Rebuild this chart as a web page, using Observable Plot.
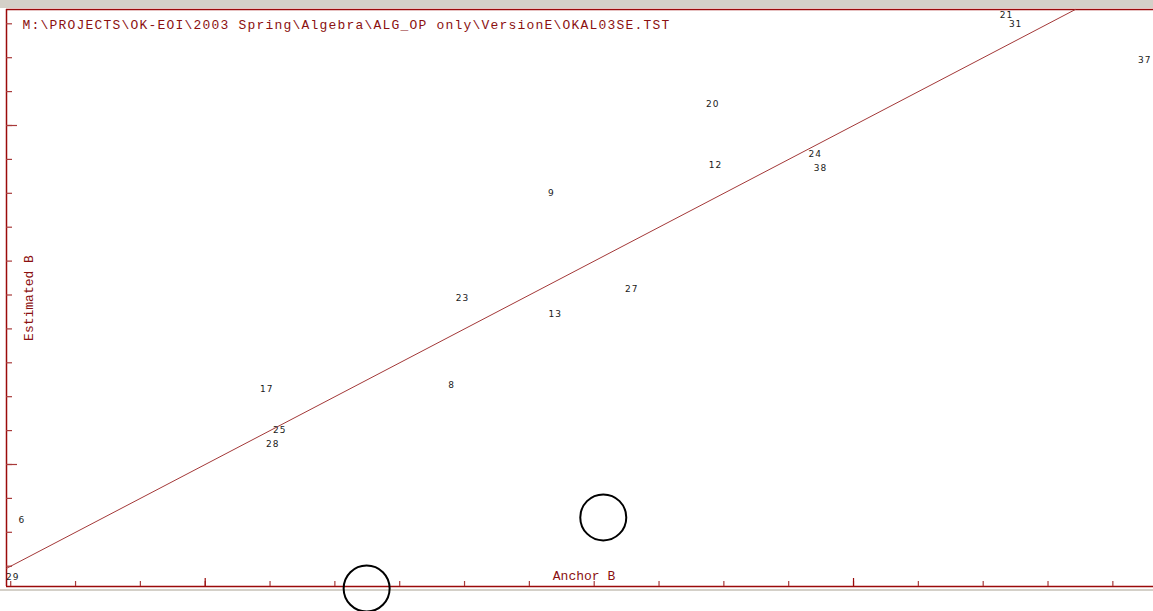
<!DOCTYPE html>
<html>
<head>
<meta charset="utf-8">
<script src="https://cdn.jsdelivr.net/npm/d3@7"></script>
<script src="https://cdn.jsdelivr.net/npm/@observablehq/plot@0.6"></script>
<style>
  html, body { margin: 0; padding: 0; background: #fff; }
  #chart svg { display: block; }
</style>
</head>
<body>
<div id="chart"></div>
<script>
// Item calibration: anchor difficulty vs. estimated difficulty (logits)
const fileTitle = "M:\\PROJECTS\\OK-EOI\\2003 Spring\\Algebra\\ALG_OP only\\VersionE\\OKAL03SE.TST";
const xTitle = "Anchor B";
const yTitle = "Estimated B";

const items      = ["21", "31", "37", "20", "24", "12", "38", "9", "27", "23", "13", "17", "8", "25", "28", "6", "29"];
const anchorB    = [0.236, 0.250, 0.449, -0.217, -0.059, -0.213, -0.051, -0.466, -0.342, -0.603, -0.460, -0.905, -0.620, -0.885, -0.896, -1.283, -1.297];
const estimatedB = [0.327, 0.298, 0.192, 0.062, -0.083, -0.118, -0.127, -0.198, -0.484, -0.510, -0.555, -0.779, -0.767, -0.900, -0.941, -1.165, -1.333];

// Two highlighted locations (hollow circles)
const markerX = [-0.386, -0.751];
const markerY = [-1.156, -1.366];

// Plot window in logits
const xDomain = [-1.3065, 0.4627];
const yDomain = [-1.3599, 0.3422];

// Minor ticks every 0.1, major ticks on whole logits
const xMinor = d3.range(-13, 5).map(i => i / 10);
const yMinor = d3.range(-13, 4).map(i => i / 10);
const xMajor = [-1, 0];
const yMajor = [-1, 0];

// Identity line y = x across the window
const identity = [xDomain[0], yDomain[1]];

const frameRed = "#9a0a0a";
const tickRed = "#a83a3a";
const textRed = "#8b1010";
const windowGray = "#d4d0c8";

const points = items.map((id, i) => ({id, x: anchorB[i], y: estimatedB[i]}));
const markers = markerX.map((x, i) => ({x, y: markerY[i]}));

const chart = Plot.plot({
  width: 1153,
  height: 611,
  marginLeft: 6,
  marginRight: 0,
  marginTop: 9,
  marginBottom: 25,
  x: {domain: xDomain, axis: null},
  y: {domain: yDomain, axis: null},
  style: {
    overflow: "visible",
    background: `linear-gradient(to bottom, ${windowGray} 0px, ${windowGray} 8px, #ffffff 8px, #ffffff 589px, ${windowGray} 589px, ${windowGray} 591px, #ffffff 591px)`
  },
  marks: [
    // frame: top, bottom, left
    Plot.ruleY([yDomain[1]], {stroke: frameRed, strokeWidth: 1.5}),
    Plot.ruleY([yDomain[0]], {stroke: frameRed, strokeWidth: 1.5}),
    Plot.ruleX([xDomain[0]], {stroke: frameRed, strokeWidth: 1.5}),
    // inward ticks
    Plot.axisX(xMinor, {anchor: "bottom", tickSize: -5, stroke: tickRed, strokeWidth: 1.2, fill: "none", label: null}),
    Plot.axisX(xMajor, {anchor: "bottom", tickSize: -8, stroke: frameRed, strokeWidth: 1.2, fill: "none", label: null}),
    Plot.axisY(yMinor, {anchor: "left", tickSize: -6, stroke: tickRed, strokeWidth: 1.2, fill: "none", label: null}),
    Plot.axisY(yMajor, {anchor: "left", tickSize: -11, stroke: tickRed, strokeWidth: 1.2, fill: "none", label: null}),
    // identity line
    Plot.line(identity, {x: d => d, y: d => d, stroke: "#a33838", strokeWidth: 1}),
    // item labels
    Plot.text(points, {
      x: "x", y: "y", text: "id",
      fontSize: 9, fontFamily: "DejaVu Sans", fill: "#1a1a1a"
    }),
    // hollow markers
    Plot.dot(markers, {x: "x", y: "y", r: 23, stroke: "#000", strokeWidth: 2, fill: "none"}),
    // titles
    Plot.text([fileTitle], {
      frameAnchor: "top-left", dx: 16, dy: 15, textAnchor: "start", lineAnchor: "middle",
      fontFamily: "Liberation Mono", fontSize: 13, fill: textRed
    }),
    Plot.text([yTitle], {
      frameAnchor: "left", dx: 22, rotate: -90, textAnchor: "middle", lineAnchor: "middle",
      fontFamily: "Liberation Mono", fontSize: 13, fill: textRed
    }),
    Plot.text([xTitle], {
      frameAnchor: "bottom", dx: 4, dy: -11, lineAnchor: "middle",
      fontFamily: "Liberation Mono", fontSize: 13, fill: textRed
    })
  ]
});

// widen the file path and item numbers a little
const itemSet = new Set(items);
chart.querySelectorAll("text").forEach(t => {
  if (t.textContent === fileTitle) t.setAttribute("letter-spacing", "1.2");
  else if (itemSet.has(t.textContent)) t.setAttribute("letter-spacing", "1");
});

document.getElementById("chart").appendChild(chart);
</script>
</body>
</html>
